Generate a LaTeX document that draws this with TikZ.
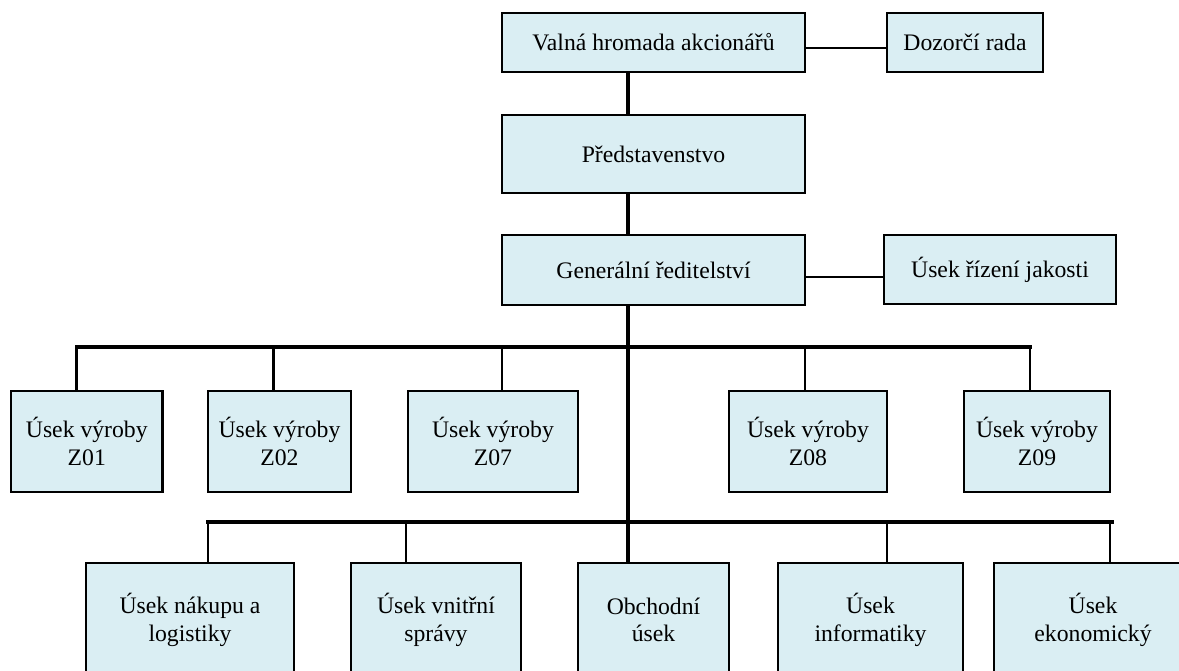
\documentclass[tikz,border=0pt]{standalone}
\usepackage{fontspec}
\setmainfont{Liberation Serif}
\definecolor{boxfill}{HTML}{DAEEF3}
\begin{document}
\begin{tikzpicture}[x=1pt,y=-1pt,
  box/.style={draw, fill=boxfill, line width=2.3pt, inner sep=0pt, align=center,
    font=\fontsize{23.7pt}{27.6pt}\selectfont},
  spine/.style={line width=3.3pt},
  bus/.style={line width=3.2pt, line cap=rect},
  drop/.style={line width=2.5pt},
  side/.style={line width=2pt}]
\useasboundingbox (0,0) rectangle (1179,670);
\clip (0,0) rectangle (1179,670);

% top levels
\node[box, minimum width=303pt, minimum height=59pt] (valna) at (653.5,42.5) {Valná hromada akcionářů};
\node[box, minimum width=156pt, minimum height=59pt] (doz) at (965,42.5) {Dozorčí rada};
\node[box, minimum width=303pt, minimum height=78pt] (pred) at (653.5,154) {Představenstvo};
\node[box, minimum width=303pt, minimum height=70pt] (gen) at (653.5,270) {Generální ředitelství};
\node[box, minimum width=232pt, minimum height=69pt] (jak) at (1000,269.5) {Úsek řízení jakosti};

% production units
\node[box, minimum width=151.6pt, minimum height=101pt] (z01) at (86.8,441.5) {Úsek výroby\\Z01};
\node[box, minimum width=143pt, minimum height=101pt] (z02) at (279.5,441.5) {Úsek výroby\\Z02};
\node[box, minimum width=170pt, minimum height=101pt] (z07) at (493,441.5) {Úsek výroby\\Z07};
\node[box, minimum width=158pt, minimum height=101pt] (z08) at (808,441.5) {Úsek výroby\\Z08};
\node[box, minimum width=146pt, minimum height=101pt] (z09) at (1037,441.5) {Úsek výroby\\Z09};

% bottom units
\node[box, minimum width=208pt, minimum height=114pt] (nak) at (190,620) {Úsek nákupu a\\logistiky};
\node[box, minimum width=170pt, minimum height=114pt] (vni) at (436,620) {Úsek vnitřní\\správy};
\node[box, minimum width=151pt, minimum height=114pt] (obch) at (653.5,620) {Obchodní\\úsek};
\node[box, minimum width=185pt, minimum height=114pt] (inf) at (870.5,620) {Úsek\\informatiky};
\node[box, minimum width=198pt, minimum height=114pt] (eko) at (1093,620) {Úsek\\ekonomický};

% spine
\coordinate (sx) at (628,0);
\draw[spine] (sx |- valna.south) -- (sx |- pred.north);
\draw[spine] (sx |- pred.south) -- (sx |- gen.north);
\draw[spine] (sx |- gen.south) -- (sx |- obch.north);

% side connectors
\coordinate (c1) at (805,48);
\draw[side] (c1) -- (c1 -| doz.west);
\coordinate (c2) at (805,277);
\draw[side] (c2) -- (c2 -| jak.west);

% first bus
\coordinate (b1l) at (76.5,347);
\coordinate (b1r) at (1030,347);
\coordinate (d2) at (273.5,347);
\coordinate (d3) at (502,347);
\coordinate (d4) at (805,347);
\draw[bus] (b1l) -- (b1r);
\draw[drop] (b1l) -- (b1l |- z01.north);
\draw[drop] (d2) -- (d2 |- z02.north);
\draw[drop] (d3) -- (d3 |- z07.north);
\draw[drop] (d4) -- (d4 |- z08.north);
\draw[drop] (b1r) -- (b1r |- z09.north);

% second bus
\coordinate (b2l) at (208,522);
\coordinate (b2r) at (1112,522);
\coordinate (e2) at (406,522);
\coordinate (e4) at (887,522);
\coordinate (e5) at (1110,522);
\draw[bus] (b2l) -- (b2r);
\draw[drop] (b2l) -- (b2l |- nak.north);
\draw[drop] (e2) -- (e2 |- vni.north);
\draw[drop] (e4) -- (e4 |- inf.north);
\draw[drop] (e5) -- (e5 |- eko.north);
\end{tikzpicture}
\end{document}
